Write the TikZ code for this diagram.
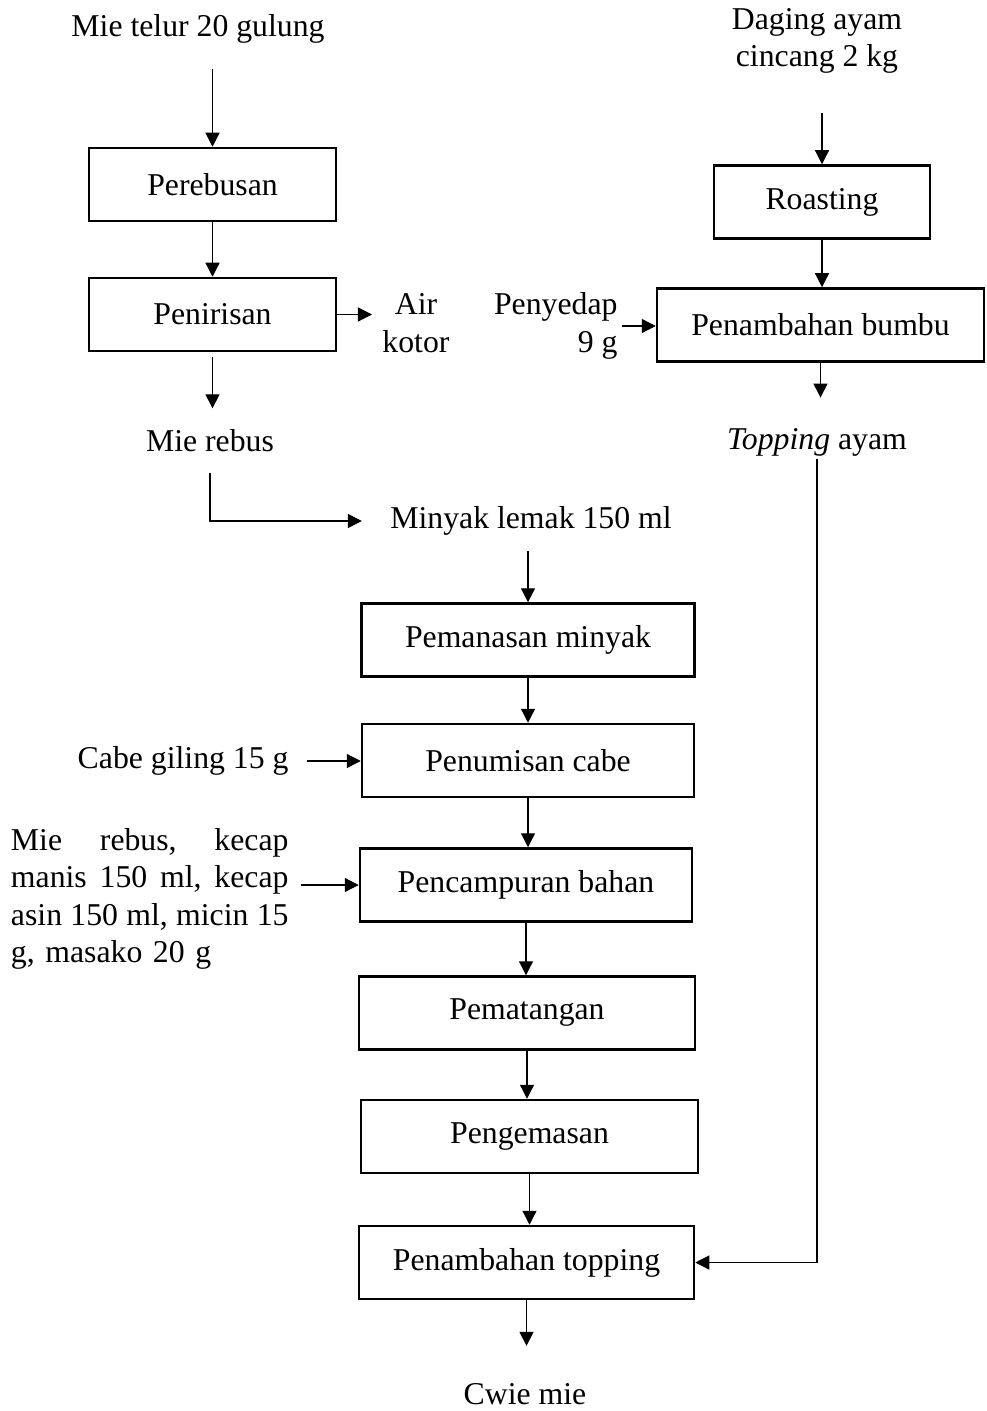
\documentclass[tikz,border=0pt]{standalone}
\usepackage{fontspec}
\setmainfont{Liberation Serif}
\usepackage{tikz}
\usetikzlibrary{positioning,calc,arrows.meta}

\begin{document}
\begin{tikzpicture}[
    x=0.4pt, y=-0.4pt,
    every node/.style={font=\fontsize{12.7}{15}\selectfont},
    proc/.style={draw, line width=1pt, rectangle, minimum height=29.2pt, minimum width=#1, inner sep=0pt},
    txt/.style={inner sep=1pt, align=center},
    arr/.style={line width=0.5pt, -{Triangle[length=5.6pt,width=5.6pt]}}
]
    \useasboundingbox (0,0) rectangle (986,1411);

    % mie
    \node [txt] (mie) at (198,29) {Mie telur 20 gulung};
    \node [proc=98.8pt] (perebusan) at (212.5,184.5) {Perebusan};
    \node [proc=98.8pt] (penirisan) at (212.5,314.5) {Penirisan};
    \node [txt] (air) at (416,323) {Air\\kotor};
    \node [txt] (mierebus) at (210,441) {Mie rebus};

    % topping ayam
    \node [txt] (daging) at (817,41) {Daging ayam\\cincang 2 kg};
    \node [proc=86.4pt] (roasting) at (822,202) {Roasting};
    \node [proc=130.8pt] (bumbu) at (820.5,325) {Penambahan bumbu};
    \node [txt, anchor=east, align=right] (penyedap) at (620.5,326) {Penyedap\\9 g};
    \node [txt] (topayam) at (817,442) {\textit{Topping} ayam};

    % proses utama
    \node [txt] (minyak) at (531,521) {Minyak lemak 150 ml};
    \node [proc=133.2pt] (pemanasan) at (528,640) {Pemanasan minyak};
    \node [proc=132.8pt] (penumisan) at (528,760.5) {Penumisan cabe};
    \node [txt, anchor=east] (cabe) at (291.5,761) {Cabe giling 15 g};
    \node [proc=132.8pt] (pencampuran) at (526,885) {Pencampuran bahan};
    \node [txt, anchor=east, align=left, text width=111pt] (campur) at (291.5,899)
        {\makebox[111pt][l]{Mie\hfill rebus,\hfill kecap}\\
         \makebox[111pt][l]{manis\hfill 150\hfill ml,\hfill kecap}\\
         \makebox[111pt][l]{asin\hfill 150\hfill ml,\hfill micin\hfill 15}\\
         g, masako 20 g};
    \node [proc=134.4pt] (pematangan) at (527,1013) {Pematangan};
    \node [proc=134.8pt] (pengemasan) at (529.5,1136.5) {Pengemasan};
    \node [proc=134pt] (tambahtop) at (526.5,1262.5) {Penambahan topping};
    \node [txt] (cwie) at (525,1394) {Cwie mie};

    \draw [arr, shorten <=9pt] (perebusan.north |- mie.south) -- (perebusan.north);
    \draw [arr] (perebusan) -- (penirisan);
    \draw [arr, shorten >=3pt] (penirisan.east) -- (penirisan.east -| air.west);
    \draw [arr, shorten <=2pt, shorten >=7.4pt] (penirisan.south) -- (penirisan.south |- mierebus.north);
    \draw [arr, shorten <=7pt, shorten >=10.2pt] (mierebus.south) |- (minyak.west);

    \draw [arr, shorten <=14.6pt] (roasting.north |- daging.south) -- (roasting.north);
    \draw [arr] (roasting.south) -- (roasting.south |- bumbu.north);
    \draw [arr, shorten <=0.5pt] (penyedap.east) -- (penyedap.east -| bumbu.west);
    \draw [arr, shorten >=11pt] (bumbu.south) -- (bumbu.south |- topayam.north);
    \draw [arr] (topayam.south) |- (tambahtop.east);

    \draw [arr, shorten <=5pt] (pemanasan.north |- minyak.south) -- (pemanasan.north);
    \draw [arr] (pemanasan.south) -- (pemanasan.south |- penumisan.north);
    \draw [arr, shorten <=6.2pt] (cabe.east) -- (cabe.east -| penumisan.west);
    \draw [arr] (penumisan.south) -- (penumisan.south |- pencampuran.north);
    \draw [arr, shorten <=3.8pt] (campur.east |- pencampuran.west) -- (pencampuran.west);
    \draw [arr] (pencampuran.south) -- (pencampuran.south |- pematangan.north);
    \draw [arr] (pematangan.south) -- (pematangan.south |- pengemasan.north);
    \draw [arr] (pengemasan.south) -- (pengemasan.south |- tambahtop.north);
    \draw [arr, shorten >=13.8pt] (tambahtop.south) -- (tambahtop.south |- cwie.north);
\end{tikzpicture}
\end{document}
